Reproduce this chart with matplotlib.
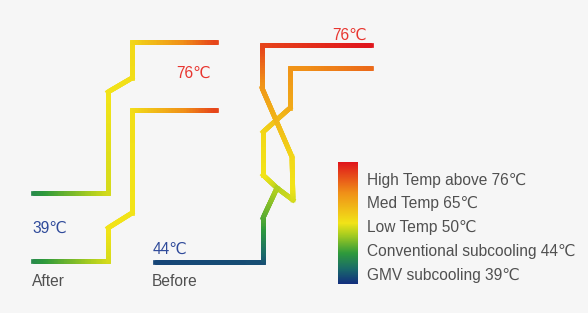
import numpy as np
import matplotlib
matplotlib.use("Agg")
import matplotlib.pyplot as plt
from matplotlib.collections import LineCollection
from matplotlib.colors import LinearSegmentedColormap

# ---------------- data ----------------
legend_temps = [76, 65, 50, 44, 39]
legend_labels = ["High Temp above 76\u2103", "Med Temp 65\u2103", "Low Temp 50\u2103",
                 "Conventional subcooling 44\u2103", "GMV subcooling 39\u2103"]

# pipe paths (x, y in picture units) and refrigerant temperature at each vertex
after_upper_x = [33, 108, 108, 132, 132, 216]
after_upper_y = [193, 193, 92, 78, 42, 42]
after_upper_t = [43, 49, 50, 51, 52, 73]

after_lower_x = [33, 108, 108, 132, 132, 216]
after_lower_y = [261, 261, 228, 213, 110, 110]
after_lower_t = [43, 49, 50, 50, 51, 73]

before_in_x = [155, 263, 263, 277]
before_in_y = [262, 262, 218, 188]
before_in_t = [39.5, 40, 45, 48]

before_a_x = [277, 263, 263, 290, 290, 371]
before_a_y = [188, 175, 132, 108, 68, 68]
before_a_t = [48, 50, 52, 60, 64, 69]

before_b_x = [277, 293, 292, 262, 262, 371]
before_b_y = [188, 200, 157, 88, 45, 45]
before_b_t = [48, 49, 52, 63, 73, 78]

text_labels = ["76\u2103", "76\u2103", "39\u2103", "44\u2103", "After", "Before"]

# ---------------- style ----------------
cmap = LinearSegmentedColormap.from_list(
    "heat",
    [(0.0, "#13307e"), (0.12, "#1a6a6a"), (0.25, "#2e9a3c"), (0.4, "#a6cc20"),
     (0.5, "#f2e418"), (0.75, "#f09018"), (1.0, "#e0161c")])
lvl_t = [39, 44, 50, 65, 78]
lvl_p = [0.02, 0.25, 0.5, 0.75, 1.0]

def tpos(t):
    return np.interp(t, lvl_t, lvl_p)

fig = plt.figure(figsize=(5.88, 3.13), dpi=100)
fig.patch.set_facecolor("#f6f6f6")
ax = fig.add_axes([0, 0, 1, 1])
ax.set_xlim(0, 588)
ax.set_ylim(313, 0)
ax.axis("off")
ax.set_facecolor("#f6f6f6")

def pipe(xs, ys, ts, lw=3.4):
    segs, cols = [], []
    for i in range(len(xs) - 1):
        x0, y0, x1, y1 = xs[i], ys[i], xs[i + 1], ys[i + 1]
        n = max(2, int(np.hypot(x1 - x0, y1 - y0) / 1.5))
        f = np.linspace(0, 1, n + 1)
        px = x0 + (x1 - x0) * f
        py = y0 + (y1 - y0) * f
        pt = ts[i] + (ts[i + 1] - ts[i]) * f
        for k in range(n):
            segs.append([(px[k], py[k]), (px[k + 1], py[k + 1])])
            cols.append(cmap(tpos(0.5 * (pt[k] + pt[k + 1]))))
    lc = LineCollection(segs, colors=cols, linewidths=lw, capstyle="projecting")
    ax.add_collection(lc)

pipe(after_upper_x, after_upper_y, after_upper_t)
pipe(after_lower_x, after_lower_y, after_lower_t)
pipe(before_a_x, before_a_y, before_a_t)
pipe(before_b_x, before_b_y, before_b_t)
pipe(before_in_x, before_in_y, before_in_t)

fam = ["Liberation Sans", "DejaVu Sans"]
red = "#e8352f"
blue = "#2f4a9a"
gray = "#505050"
fs = 11.2
ax.text(176, 73, text_labels[0], color=red, fontsize=fs, family=fam, va="center", ha="left")
ax.text(332, 35, text_labels[1], color=red, fontsize=fs, family=fam, va="center", ha="left")
ax.text(32, 228, text_labels[2], color=blue, fontsize=fs, family=fam, va="center", ha="left")
ax.text(153, 249, text_labels[3], color=blue, fontsize=fs, family=fam, va="center", ha="left")
ax.text(32, 281, text_labels[4], color=gray, fontsize=fs, family=fam, va="center", ha="left")
ax.text(152, 281, text_labels[5], color=gray, fontsize=fs, family=fam, va="center", ha="left")

# legend bar
grad = np.linspace(1, 0, 200).reshape(-1, 1)
ax.imshow(grad, cmap=cmap, aspect="auto", extent=[338, 358, 284, 162], vmin=0, vmax=1,
          interpolation="bilinear")
ax.set_xlim(0, 588)
ax.set_ylim(313, 0)
for i, lab in enumerate(legend_labels):
    ax.text(367, 180 + i * 23.8, lab, color=gray, fontsize=fs, family=fam,
            va="center", ha="left")

fig.savefig("out.png", dpi=100, facecolor=fig.get_facecolor())
